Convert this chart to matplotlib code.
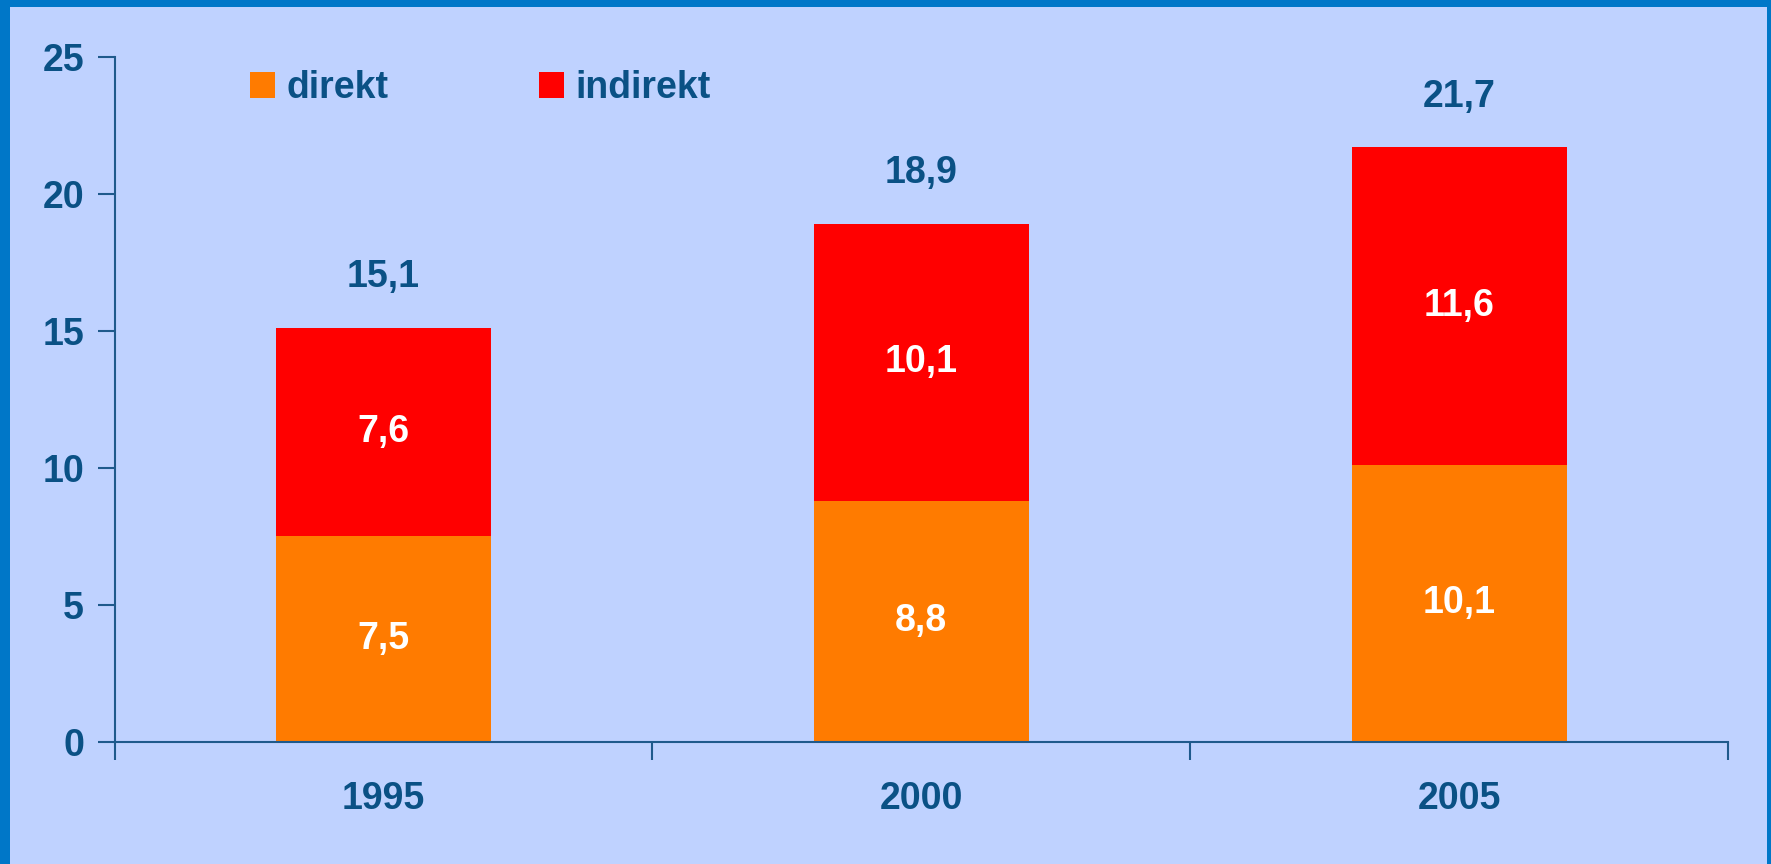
import matplotlib.pyplot as plt
import matplotlib.patches as mpatches
import numpy as np

years = ['1995', '2000', '2005']
direkt = [7.5, 8.8, 10.1]
indirekt = [7.6, 10.1, 11.6]
totals = [15.1, 18.9, 21.7]

BG = '#bfd2ff'
BORDER = '#0077c8'
TXT = '#0a5185'
ORANGE = '#ff7b00'
RED = '#ff0000'
FS = 27

plt.rcParams.update({
    'font.family': ['Liberation Sans Narrow', 'Liberation Sans', 'DejaVu Sans'],
    'font.weight': 'bold',
})

fig = plt.figure(figsize=(17.71, 8.64), dpi=100)
fig.patch.set_facecolor(BORDER)
fig.add_artist(mpatches.Rectangle((10 / 1771, 0), 1757 / 1771, 857 / 864,
                                  transform=fig.transFigure, facecolor=BG,
                                  edgecolor='none', zorder=0))

ax = fig.add_axes([114.5 / 1771, 1 - 741.7 / 864, (1728 - 114.5) / 1771, (741.7 - 57) / 864])
ax.set_facecolor('none')

x = np.arange(len(years))
w = 0.40
ax.bar(x, direkt, w, color=ORANGE, label='direkt', zorder=2)
ax.bar(x, indirekt, w, bottom=direkt, color=RED, label='indirekt', zorder=2)

for i in range(len(years)):
    ax.text(x[i], direkt[i] / 2, f'{direkt[i]:.1f}'.replace('.', ','),
            ha='center', va='center', color='white', fontsize=FS, fontweight='bold')
    ax.text(x[i], direkt[i] + indirekt[i] / 2, f'{indirekt[i]:.1f}'.replace('.', ','),
            ha='center', va='center', color='white', fontsize=FS, fontweight='bold')
    ax.text(x[i], totals[i] + 1.85, f'{totals[i]:.1f}'.replace('.', ','),
            ha='center', va='center', color=TXT, fontsize=FS, fontweight='bold')

ax.set_xlim(-0.5, 2.5)
ax.set_ylim(0, 25)
ax.set_yticks([0, 5, 10, 15, 20, 25])

ax.set_xticks([-0.5, 0.5, 1.5, 2.5])
ax.set_xticklabels([])
ax.set_xticks(x, minor=True)
ax.set_xticklabels(years, minor=True)
ax.tick_params(axis='x', which='major', direction='out', length=13, width=1.5, color='#1f5a8c')
ax.tick_params(axis='x', which='minor', length=0, pad=28, labelsize=FS, labelcolor=TXT)
ax.tick_params(axis='y', direction='out', length=12, width=1.5, color='#1f5a8c',
               labelsize=FS, labelcolor=TXT, pad=10)

for s in ['top', 'right']:
    ax.spines[s].set_visible(False)
for s in ['left', 'bottom']:
    ax.spines[s].set_color('#1f5a8c')
    ax.spines[s].set_linewidth(1.5)

ax.legend(loc='upper left', bbox_to_anchor=(0.063, 1.03), ncol=2, frameon=False,
          handlelength=0.68, handleheight=0.68, handletextpad=0.3, columnspacing=4.0,
          prop={'size': FS, 'weight': 'bold'}, labelcolor=TXT)

fig.savefig('out.png', dpi=100, facecolor=fig.get_facecolor())
